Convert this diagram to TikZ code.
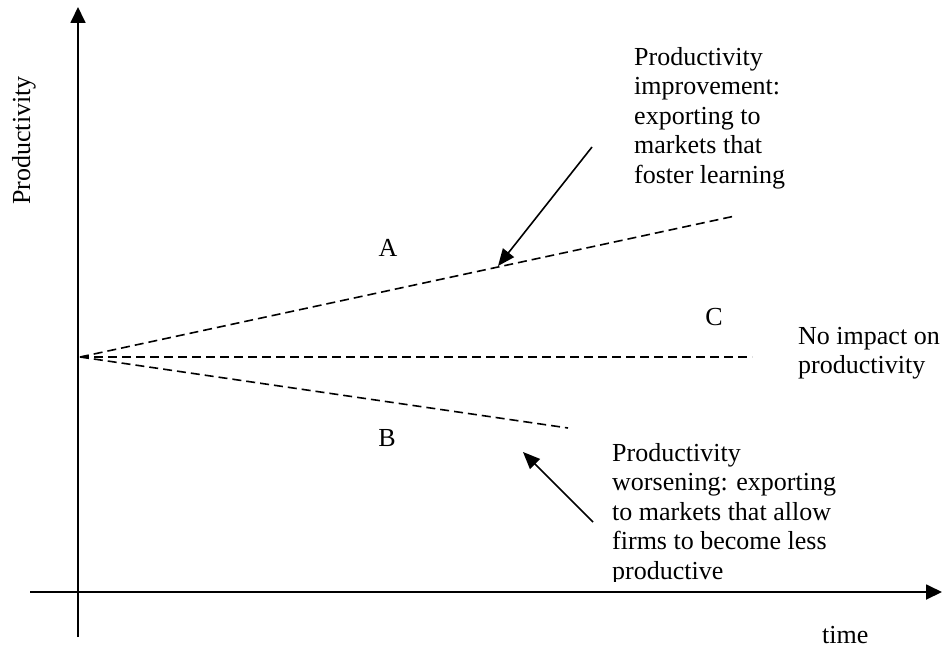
\documentclass[tikz,border=0pt]{standalone}
\usepackage{fontspec}
\setmainfont{Liberation Serif}
\usetikzlibrary{arrows.meta}
\begin{document}
\begin{tikzpicture}[x=1pt,y=-1pt,
  axisline/.style={line width=1.8pt,-{Triangle[length=16pt,width=15pt]}},
  trend/.style={line width=1.6pt,dash pattern=on 9pt off 5pt},
  pointer/.style={line width=1.6pt,-{Triangle[length=17pt,width=14pt]}},
  lbl/.style={inner sep=0pt,font=\fontsize{26}{29.5}\selectfont},
  blk/.style={lbl,align=left,anchor=base west}]
\useasboundingbox (0,0) rectangle (944,658);
% axes
\coordinate (ybot) at (78,637);
\coordinate (ytop) at (78,7);
\coordinate (xl) at (30,592);
\coordinate (xr) at (942,592);
\draw[axisline] (ybot) -- (ytop);
\draw[axisline] (xl) -- (xr);
% trend lines
\coordinate (o) at (80,357);
\coordinate (aend) at (735,216);
\coordinate (cend) at (752,357);
\coordinate (bend) at (568,428);
\draw[trend] (o) -- (aend);
\draw[trend] (o) -- (cend);
\draw[trend] (o) -- (bend);
% labels
\node[lbl] (A) at (388,248) {A};
\node[lbl] (C) at (714,317) {C};
\node[lbl] (B) at (387,438) {B};
\node[lbl,rotate=90,anchor=base west] (ylab) at (30,205) {Productivity};
\node[lbl,anchor=base west] (time) at (822,643) {time};
% base west = baseline of last line
\node[blk] (up) at (634,183) {Productivity\\improvement:\\exporting to\\markets that\\foster learning};
\node[blk] (none) at (798,373.5) {No impact on\\productivity};
\begin{scope}
\clip (600,430) rectangle (944,581);
\node[blk] (down) at (612,579) {Productivity\\worsening: exporting\\to markets that allow\\firms to become less\\productive};
\end{scope}
% pointers
\coordinate (p1s) at (592,147);
\coordinate (p1e) at (498,266);
\coordinate (p2s) at (593,522);
\coordinate (p2e) at (523,452);
\draw[pointer] (p1s) -- (p1e);
\draw[pointer] (p2s) -- (p2e);
\end{tikzpicture}
\end{document}
